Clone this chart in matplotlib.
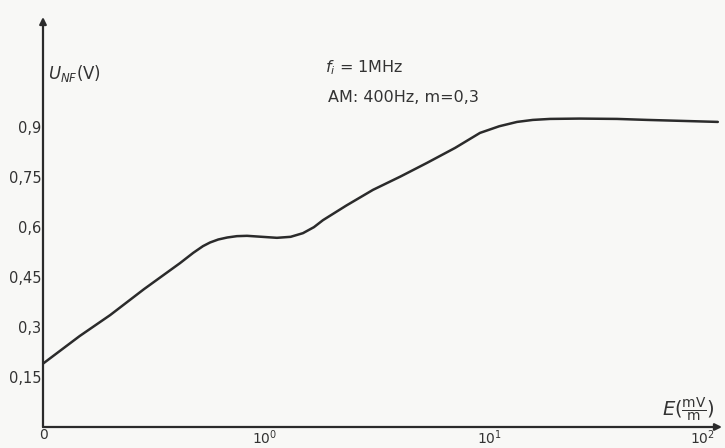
import numpy as np
import matplotlib
matplotlib.use("Agg")
import matplotlib.pyplot as plt

# field strength E (mV/m) and audio output voltage U_NF (V)
e_field = [0.103, 0.15, 0.205, 0.29, 0.419, 0.48, 0.53, 0.57, 0.62, 0.68,
           0.75, 0.832, 0.97, 1.13, 1.3, 1.475, 1.65, 1.81, 2.3, 3.02, 4.0,
           5.25, 7.0, 9.03, 11.0, 13.2, 15.5, 18.5, 25.0, 36.7, 50.0, 72.0,
           103.0]
u_nf = [0.19, 0.273, 0.336, 0.414, 0.492, 0.523, 0.543, 0.554, 0.563, 0.569,
        0.573, 0.574, 0.571, 0.568, 0.571, 0.582, 0.600, 0.621, 0.665, 0.712,
        0.752, 0.793, 0.838, 0.883, 0.903, 0.916, 0.922, 0.925, 0.926, 0.925,
        0.922, 0.919, 0.916]

y_ticks = [0.15, 0.3, 0.45, 0.6, 0.75, 0.9]
y_labels = ["0,15", "0,3", "0,45", "0,6", "0,75", "0,9"]
x_ticks = [0.1031, 1, 10, 100]
x_labels = ["0", "$10^0$", "$10^1$", "$10^2$"]

ink = "#2b2b2b"
paper = "#f8f8f6"

fig = plt.figure(figsize=(7.25, 4.48), dpi=100, facecolor=paper)
ax = fig.add_axes([43 / 725, 21 / 448, 679 / 725, 410 / 448])
ax.set_facecolor(paper)

ax.plot(e_field, u_nf, color=ink, lw=1.8, solid_joinstyle="round",
        solid_capstyle="round")

ax.set_xscale("log")
ax.set_xlim(0.1031, 107.5)
ax.set_ylim(0, 1.231)

for s in ax.spines.values():
    s.set_visible(False)

# axes with arrow heads
ax.annotate("", xy=(1.0, 0), xytext=(0, 0), xycoords="axes fraction",
            arrowprops=dict(arrowstyle="-|>", color=ink, lw=1.6,
                            mutation_scale=10, shrinkA=0, shrinkB=0))
ax.annotate("", xy=(0, 1.0), xytext=(0, 0), xycoords="axes fraction",
            arrowprops=dict(arrowstyle="-|>", color=ink, lw=1.6,
                            mutation_scale=10, shrinkA=0, shrinkB=0))

ax.set_yticks(y_ticks)
ax.set_yticklabels(y_labels)
ax.set_xticks(x_ticks)
ax.set_xticklabels(x_labels)
ax.minorticks_off()
ax.tick_params(axis="y", length=0, pad=1, labelsize=10.5, labelcolor="#333333")
ax.tick_params(axis="x", length=0, pad=1, labelsize=10, labelcolor="#333333")
# last label sits at the right edge, keep it inside the picture
ax.get_xticklabels()[-1].set_horizontalalignment("right")
ax.get_xticklabels()[-1].set_x(0)

ax.text(0.108, 1.06, r"$U_{NF}$(V)", fontsize=12, color="#333333",
        va="center", ha="left")
ax.text(1.85, 1.08, r"$f_i$ = 1MHz", fontsize=11.5, color="#333333",
        va="center", ha="left")
ax.text(1.9, 0.99, "AM: 400Hz, m=0,3", fontsize=11.5, color="#333333",
        va="center", ha="left")
ax.text(100, 0.055, r"$E(\frac{\mathrm{mV}}{\mathrm{m}})$", fontsize=14,
        color="#333333", va="center", ha="right")

fig.savefig("out.png", dpi=100, facecolor=paper)
